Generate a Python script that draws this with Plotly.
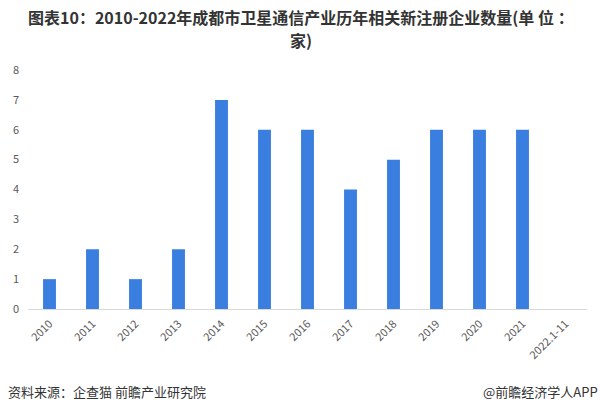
import plotly.graph_objects as go

categories = ["2010", "2011", "2012", "2013", "2014", "2015", "2016", "2017", "2018", "2019", "2020", "2021", "2022.1-11"]
values = [1, 2, 1, 2, 7, 6, 6, 4, 5, 6, 6, 6, 0]

title_line1 = "图表10：2010-2022年成都市卫星通信产业历年相关新注册企业数量(单 位 ："
title_line2 = "家)"
source_text = "资料来源：企查猫 前瞻产业研究院"
brand_text = "@前瞻经济学人APP"

font_family = "Noto Sans CJK SC, Microsoft YaHei, sans-serif"

fig = go.Figure(go.Bar(
    x=categories, y=values,
    marker=dict(color="#3a7fe0", line=dict(width=0)),
    width=0.3,
))

W, H = 600, 411
L, R, T, B = 28, 13, 70, 102
pw, ph = W - L - R, H - T - B

def px_x(x):
    return (x - L) / pw

def px_y(y):
    return (H - B - y) / ph

fig.update_layout(
    width=W, height=H,
    margin=dict(l=L, r=R, t=T, b=B, autoexpand=False),
    paper_bgcolor="white", plot_bgcolor="white",
    font=dict(family=font_family, color="#595959", size=11),
    showlegend=False,
    xaxis=dict(type="category", tickangle=-45, showgrid=False, showline=True, automargin=False,
               linecolor="#d9d9d9", linewidth=1, ticks="", tickfont=dict(size=11, color="#595959"),
               ticklabelstandoff=3),
    yaxis=dict(range=[0, 8], dtick=1, showgrid=False, zeroline=False, showline=False, automargin=False,
               ticks="", tickfont=dict(size=11, color="#595959"), ticklabelstandoff=8),
    annotations=[
        dict(text="<b>" + title_line1 + "</b>", xref="paper", yref="paper", x=px_x(301), y=px_y(17),
             xanchor="center", yanchor="middle", showarrow=False,
             font=dict(size=16, color="#333333", family=font_family)),
        dict(text="<b>" + title_line2 + "</b>", xref="paper", yref="paper", x=px_x(301), y=px_y(40),
             xanchor="center", yanchor="middle", showarrow=False,
             font=dict(size=16, color="#333333", family=font_family)),
        dict(text=source_text, xref="paper", yref="paper", x=px_x(6), y=px_y(391), xanchor="left", yanchor="middle",
             showarrow=False, font=dict(size=13, color="#333333", family=font_family)),
        dict(text=brand_text, xref="paper", yref="paper", x=px_x(600), y=px_y(391), xanchor="right", yanchor="middle",
             showarrow=False, font=dict(size=13, color="#333333", family=font_family)),
    ],
)

fig.write_html("out.html", config={"displayModeBar": False},
               post_script="document.body.style.margin='0';document.body.style.overflow='hidden';")
